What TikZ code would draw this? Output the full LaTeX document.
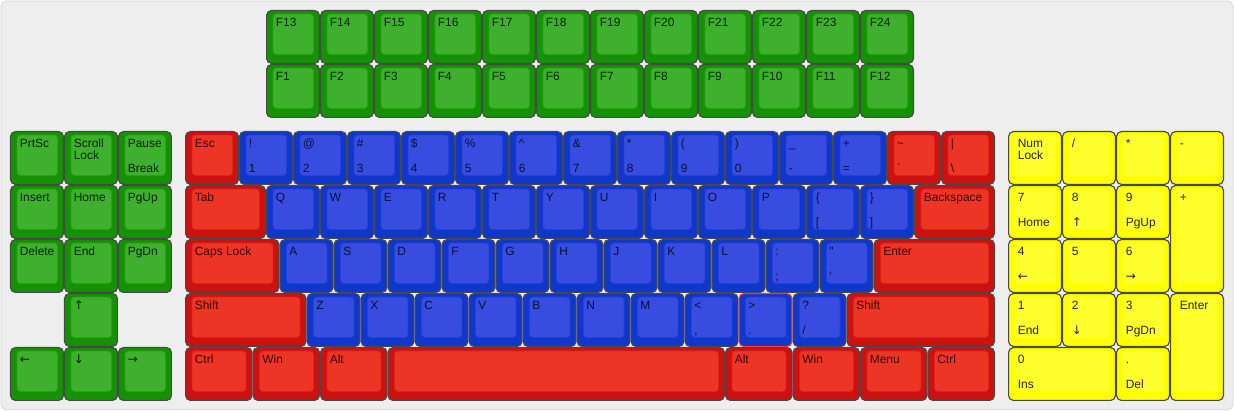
\documentclass[tikz,border=0pt]{standalone}
\usepackage{fontspec}
\setmainfont{Liberation Sans}
\newfontfamily\arrowfont{DejaVu Sans}
\usepackage{tikz}
\usepackage{xcolor}
\definecolor{panelfill}{RGB}{238,238,238}
\definecolor{panelline}{RGB}{214,214,214}
\definecolor{keyline}{RGB}{72,72,72}
\definecolor{grnbase}{RGB}{20,146,2}
\definecolor{grntop}{RGB}{63,176,46}
\definecolor{redbase}{RGB}{204,17,17}
\definecolor{redtop}{RGB}{237,53,38}
\definecolor{blubase}{RGB}{15,55,204}
\definecolor{blutop}{RGB}{57,76,224}
\definecolor{ylwbase}{RGB}{255,255,0}
\definecolor{ylwtop}{RGB}{255,255,46}
\newcommand\keyfont{\fontsize{6.3}{7}\selectfont}
\newcommand\arr[1]{{\arrowfont #1}}

\begin{document}
\begin{tikzpicture}[
      keycap/.style 2 args={draw=keyline,line width=0.6pt,fill=#1,rounded corners=0.9mm,
                  anchor=north west,inner sep=0pt,
                  minimum width=1cm-0.6pt,minimum height=1cm-0.6pt,
                  path picture={\filldraw[fill=#2,draw=#1!50!#2,line width=0.4pt,rounded corners=0.6mm]
                    ([xshift=0.12cm,yshift=-0.065cm]path picture bounding box.north west) rectangle
                    ([xshift=-0.11cm,yshift=0.167cm]path picture bounding box.south east);}},
      kw/.style={minimum width=#1*1cm-0.6pt},
      kh/.style={minimum height=#1*1cm-0.6pt},
      legend/.style={anchor=north west,inner sep=0pt,font=\keyfont,
                  text height=4.5pt,text depth=1.3pt},
      tl/.style={label={[legend,xshift=0.175cm,yshift=-0.148cm]north west:{#1}}},
      ml/.style={label={[legend,xshift=0.175cm,yshift=-0.37cm]north west:{#1}}},
      bl/.style={label={[legend,xshift=0.175cm,yshift=-0.595cm]north west:{#1}}}]
      \useasboundingbox (0,0) rectangle (22.852,-7.611);
      \draw[panelline,fill=panelfill,rounded corners=1mm] (0.02,-0.02) rectangle (22.832,-7.59);

      % Function rows and navigation cluster
      \begin{scope}[key/.style={keycap={grnbase}{grntop}},text=grnbase!25!black]
        \foreach \n [count=\i from 0] in {13,...,24}
          \node[key,tl=F\n] (f\n) at (4.926+\i,-0.185) {};
        \foreach \n [count=\i from 0] in {1,...,12}
          \node[key,tl=F\n] (f\n) at (4.926+\i,-1.185) {};
        \node[key,tl=PrtSc]           (prtsc)  at (0.185,-2.426) {};
        \node[key,tl=Scroll,ml=Lock]  (scrlk)  at (1.185,-2.426) {};
        \node[key,tl=Pause,bl=Break]  (pause)  at (2.185,-2.426) {};
        \node[key,tl=Insert]          (insert) at (0.185,-3.426) {};
        \node[key,tl=Home]            (home)   at (1.185,-3.426) {};
        \node[key,tl=PgUp]            (pgup)   at (2.185,-3.426) {};
        \node[key,tl=Delete]          (delete) at (0.185,-4.426) {};
        \node[key,tl=End]             (kend)   at (1.185,-4.426) {};
        \node[key,tl=PgDn]            (pgdn)   at (2.185,-4.426) {};
        \node[key,tl=\arr{↑}]         (up)     at (1.185,-5.426) {};
        \node[key,tl=\arr{←}]         (left)   at (0.185,-6.426) {};
        \node[key,tl=\arr{↓}]         (down)   at (1.185,-6.426) {};
        \node[key,tl=\arr{→}]         (right)  at (2.185,-6.426) {};
      \end{scope}

      % Modifiers
      \begin{scope}[key/.style={keycap={redbase}{redtop}},text=redbase!30!black]
        \node[key,tl=Esc]                          (esc)    at (3.426,-2.426) {};
        \node[key,tl=\textasciitilde,bl=\textasciigrave] (tilde) at (16.426,-2.426) {};
        \node[key,tl=\textbar,bl=\textbackslash]   (bslash) at (17.426,-2.426) {};
        \node[key,kw=1.5,tl=Tab]                   (tab)    at (3.426,-3.426) {};
        \node[key,kw=1.5,tl=Backspace]             (bksp)   at (16.926,-3.426) {};
        \node[key,kw=1.75,tl=Caps Lock]            (caps)   at (3.426,-4.426) {};
        \node[key,kw=2.25,tl=Enter]                (enter)  at (16.176,-4.426) {};
        \node[key,kw=2.25,tl=Shift]                (lshift) at (3.426,-5.426) {};
        \node[key,kw=2.75,tl=Shift]                (rshift) at (15.676,-5.426) {};
        \node[key,kw=1.25,tl=Ctrl]                 (lctrl)  at (3.426,-6.426) {};
        \node[key,kw=1.25,tl=Win]                  (lwin)   at (4.676,-6.426) {};
        \node[key,kw=1.25,tl=Alt]                  (lalt)   at (5.926,-6.426) {};
        \node[key,kw=6.25]                         (space)  at (7.176,-6.426) {};
        \node[key,kw=1.25,tl=Alt]                  (ralt)   at (13.426,-6.426) {};
        \node[key,kw=1.25,tl=Win]                  (rwin)   at (14.676,-6.426) {};
        \node[key,kw=1.25,tl=Menu]                 (menu)   at (15.926,-6.426) {};
        \node[key,kw=1.25,tl=Ctrl]                 (rctrl)  at (17.176,-6.426) {};
      \end{scope}

      % Alphanumeric keys
      \begin{scope}[key/.style={keycap={blubase}{blutop}},text=blubase!30!black]
        \foreach \hi/\lo [count=\i from 0] in {!/1,@/2,\#/3,\$/4,\%/5,\textasciicircum/6,
                                             \&/7,*/8,{(}/9,{)}/0,\_/-,+/=}
          \node[key,tl=\hi,bl=\lo] (num\i) at (4.426+\i,-2.426) {};
        \foreach \c [count=\i from 0] in {Q,W,E,R,T,Y,U,I,O,P}
          \node[key,tl=\c] (key\c) at (4.926+\i,-3.426) {};
        \node[key,tl=\{,bl={[}] (lbrack) at (14.926,-3.426) {};
        \node[key,tl=\},bl={]}] (rbrack) at (15.926,-3.426) {};
        \foreach \c [count=\i from 0] in {A,S,D,F,G,H,J,K,L}
          \node[key,tl=\c] (key\c) at (5.176+\i,-4.426) {};
        \node[key,tl={:},bl={;}] (semi)  at (14.176,-4.426) {};
        \node[key,tl=\textquotedbl,bl=\textquotesingle] (quote) at (15.176,-4.426) {};
        \foreach \c [count=\i from 0] in {Z,X,C,V,B,N,M}
          \node[key,tl=\c] (key\c) at (5.676+\i,-5.426) {};
        \node[key,tl={<},bl={,}] (comma) at (12.676,-5.426) {};
        \node[key,draw=red!80!white,tl={>},bl={.}] (period) at (13.676,-5.426) {};
        \node[key,tl={?},bl={/}] (slash) at (14.676,-5.426) {};
      \end{scope}

      % Numeric keypad
      \begin{scope}[key/.style={keycap={ylwbase}{ylwtop}},text=black!85]
        \node[key,tl=Num,ml=Lock]        (numlk) at (18.667,-2.426) {};
        \node[key,tl=/]                  (pdiv)  at (19.667,-2.426) {};
        \node[key,tl=*]                  (pmul)  at (20.667,-2.426) {};
        \node[key,tl=-]                  (psub)  at (21.667,-2.426) {};
        \node[key,tl=7,bl=Home]          (p7)    at (18.667,-3.426) {};
        \node[key,tl=8,bl=\arr{↑}]       (p8)    at (19.667,-3.426) {};
        \node[key,tl=9,bl=PgUp]          (p9)    at (20.667,-3.426) {};
        \node[key,kh=2,tl=+]             (padd)  at (21.667,-3.426) {};
        \node[key,tl=4,bl=\arr{←}]       (p4)    at (18.667,-4.426) {};
        \node[key,tl=5]                  (p5)    at (19.667,-4.426) {};
        \node[key,tl=6,bl=\arr{→}]       (p6)    at (20.667,-4.426) {};
        \node[key,tl=1,bl=End]           (p1)    at (18.667,-5.426) {};
        \node[key,tl=2,bl=\arr{↓}]       (p2)    at (19.667,-5.426) {};
        \node[key,tl=3,bl=PgDn]          (p3)    at (20.667,-5.426) {};
        \node[key,kh=2,tl=Enter]         (pent)  at (21.667,-5.426) {};
        \node[key,kw=2,tl=0,bl=Ins]      (p0)    at (18.667,-6.426) {};
        \node[key,tl=.,bl=Del]           (pdot)  at (20.667,-6.426) {};
      \end{scope}
    \end{tikzpicture}
\end{document}
